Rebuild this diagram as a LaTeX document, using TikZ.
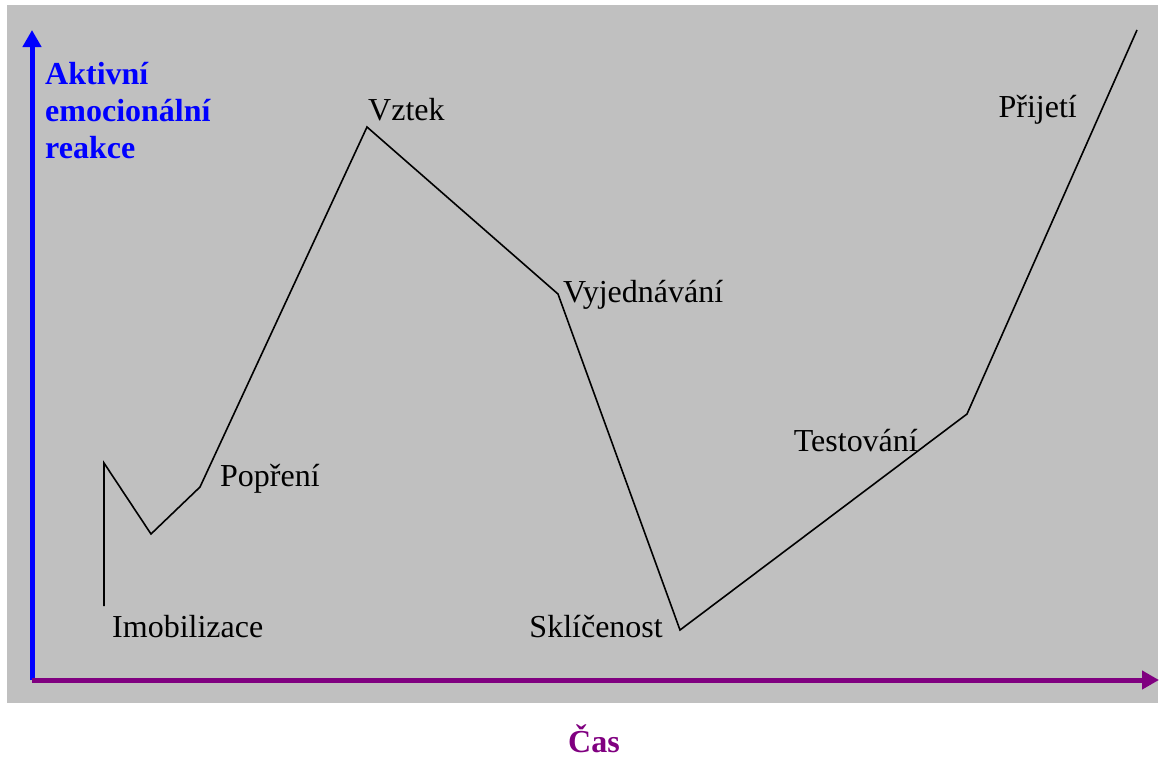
\documentclass[tikz,border=0pt]{standalone}
\usepackage{fontspec}
\setmainfont{Liberation Serif}
\usetikzlibrary{arrows.meta}
\definecolor{pozadi}{RGB}{192,192,192}
\definecolor{fialova}{RGB}{128,0,128}

\begin{document}
\begin{tikzpicture}[x=1pt, y=-1pt, >={Triangle[width=18pt,length=17pt]}]
    % 1. Okraje a sede pozadi
    \useasboundingbox (0,0) rectangle (1160,758);
    \fill[pozadi] (7,5) rectangle (1158,703);

    % 2. Osy
    \coordinate (pocatek) at (32,680);
    \coordinate (osay) at (32,30);
    \coordinate (osax) at (1159,680);
    \draw[->, blue, line width=5pt] (pocatek) -- (osay);
    \draw[->, fialova, line width=5pt] (pocatek) -- (osax);

    % 3. Popisky os
    \node[blue, font=\fontsize{32}{37}\selectfont\bfseries, align=left, anchor=west, inner sep=0pt]
        (reakce) at (45,111) {Aktivní\\emocionální\\reakce};
    \node[fialova, font=\fontsize{32}{36}\selectfont\bfseries, inner sep=0pt, anchor=base]
        (cas) at (594,752) {Čas};

    % 4. Body krivky
    \coordinate (p0) at (104,606);
    \coordinate (p1) at (104,463);
    \coordinate (p2) at (151,534);
    \coordinate (p3) at (200,487);
    \coordinate (p4) at (367,127);
    \coordinate (p5) at (558,294);
    \coordinate (p6) at (680,630);
    \coordinate (p7) at (967,414);
    \coordinate (p8) at (1137,30);
    \draw[black, line width=1.6pt]
        (p0) -- (p1) -- (p2) -- (p3) -- (p4) -- (p5) -- (p6) -- (p7) -- (p8);

    % 5. Faze
    \tikzset{faze/.style={font=\fontsize{32}{36}\selectfont, inner sep=0pt}}
    \node[faze, anchor=west] (imobilizace) at (112,627) {Imobilizace};
    \node[faze, anchor=west] (popreni) at (220,479) {Popření};
    \node[faze, anchor=west] (vztek) at (368,110) {Vztek};
    \node[faze, anchor=west] (vyjednavani) at (563,295) {Vyjednávání};
    \node[faze, anchor=east] (sklicenost) at (663,627) {Sklíčenost};
    \node[faze, anchor=east] (testovani) at (918,441) {Testování};
    \node[faze, anchor=east] (prijeti) at (1077,110) {Přijetí};
\end{tikzpicture}
\end{document}
